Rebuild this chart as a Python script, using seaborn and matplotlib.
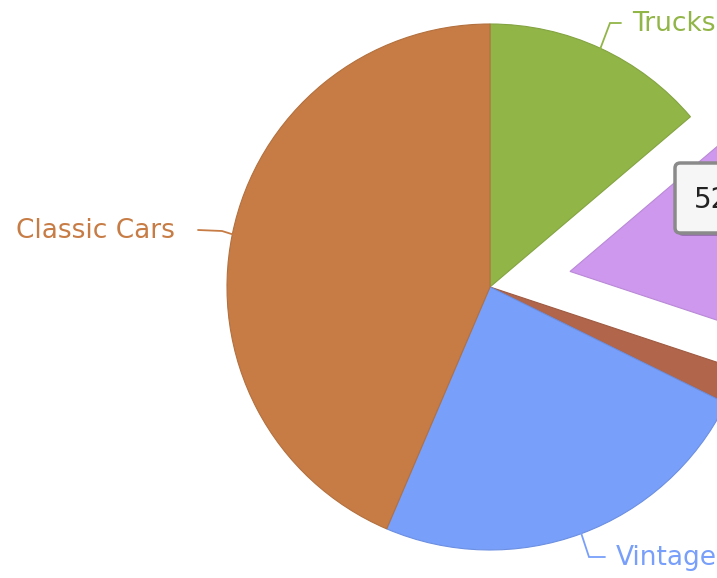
import numpy as np
import matplotlib
matplotlib.use("Agg")
import matplotlib.pyplot as plt
import seaborn as sns
from matplotlib.patches import FancyBboxPatch
from matplotlib.colors import to_rgb

# ---- data ----
categories = ["Trucks", "Motorcycles", "Trains", "Vintage", "Classic Cars"]
values = [44, 52, 7, 77, 139]
colors = ["#92B548", "#CE98EE", "#B1654A", "#789FFA", "#C77C45"]
explode = [0, 0.31, 0, 0, 0]
tooltip_text = "52"

sns.set_theme(style="white")
plt.rcParams['font.family'] = ['DejaVu Sans']

W, H = 717, 578
fig = plt.figure(figsize=(W / 100, H / 100), dpi=100)
ax = fig.add_axes([0, 0, 1, 1])

CX, CY, R = 490, 287, 263


def px(x, y):
    return ((x - CX) / R, (CY - y) / R)


def darker(c, f=0.9):
    r, g, b = to_rgb(c)
    return (r * f, g * f, b * f)


wedges, _ = ax.pie(values, colors=colors, explode=explode, startangle=90,
                   counterclock=False, radius=1, center=(0, 0),
                   wedgeprops=dict(linewidth=0.8))
for w, c in zip(wedges, colors):
    w.set_edgecolor(darker(c))

ax.set_xlim(px(0, 0)[0], px(W, 0)[0])
ax.set_ylim(px(0, H)[1], px(0, 0)[1])
ax.axis('off')

# ---- data labels with connectors (layout in pixels) ----
label_layout = {
    "Trucks": dict(bend=(610, 23), end=(621, 23), tx=632, ha='left'),
    "Classic Cars": dict(bend=(222, 231), end=(198, 230), tx=175, ha='right'),
    "Vintage": dict(bend=(589, 557), end=(605, 557), tx=616, ha='left'),
}
for w, name, c in zip(wedges, categories, colors):
    if name not in label_layout:
        continue
    L = label_layout[name]
    th = np.deg2rad((w.theta1 + w.theta2) / 2)
    cx, cy = w.center
    ex, ey = cx + w.r * np.cos(th), cy + w.r * np.sin(th)
    bx, by = px(*L['bend'])
    nx, ny = px(*L['end'])
    ax.plot([ex, bx, nx], [ey, by, ny], color=c, lw=1.3,
            solid_joinstyle='miter', clip_on=False)
    tx, ty = px(L['tx'], L['end'][1] + 1)
    ax.text(tx, ty, name, color=c, fontsize=19, ha=L['ha'], va='center')

# ---- tooltip ----
x0, y0 = px(675, 233)
bw = (790 - 675) / R
bh = (233 - 163) / R
shadow = FancyBboxPatch((x0 + 3 / R, y0 - 3 / R), bw, bh,
                        boxstyle="round,pad=0,rounding_size=0.02",
                        facecolor='black', alpha=0.25, edgecolor='none', zorder=5)
ax.add_patch(shadow)
box = FancyBboxPatch((x0, y0), bw, bh,
                     boxstyle="round,pad=0,rounding_size=0.02",
                     facecolor='#F6F6F6', edgecolor='#8A8A8A', lw=2.5, zorder=6)
ax.add_patch(box)
tx, ty = px(694, 200)
ax.text(tx, ty, tooltip_text, fontsize=20, color='#222222', ha='left',
        va='center', zorder=7)

fig.savefig("out.png", dpi=100)
